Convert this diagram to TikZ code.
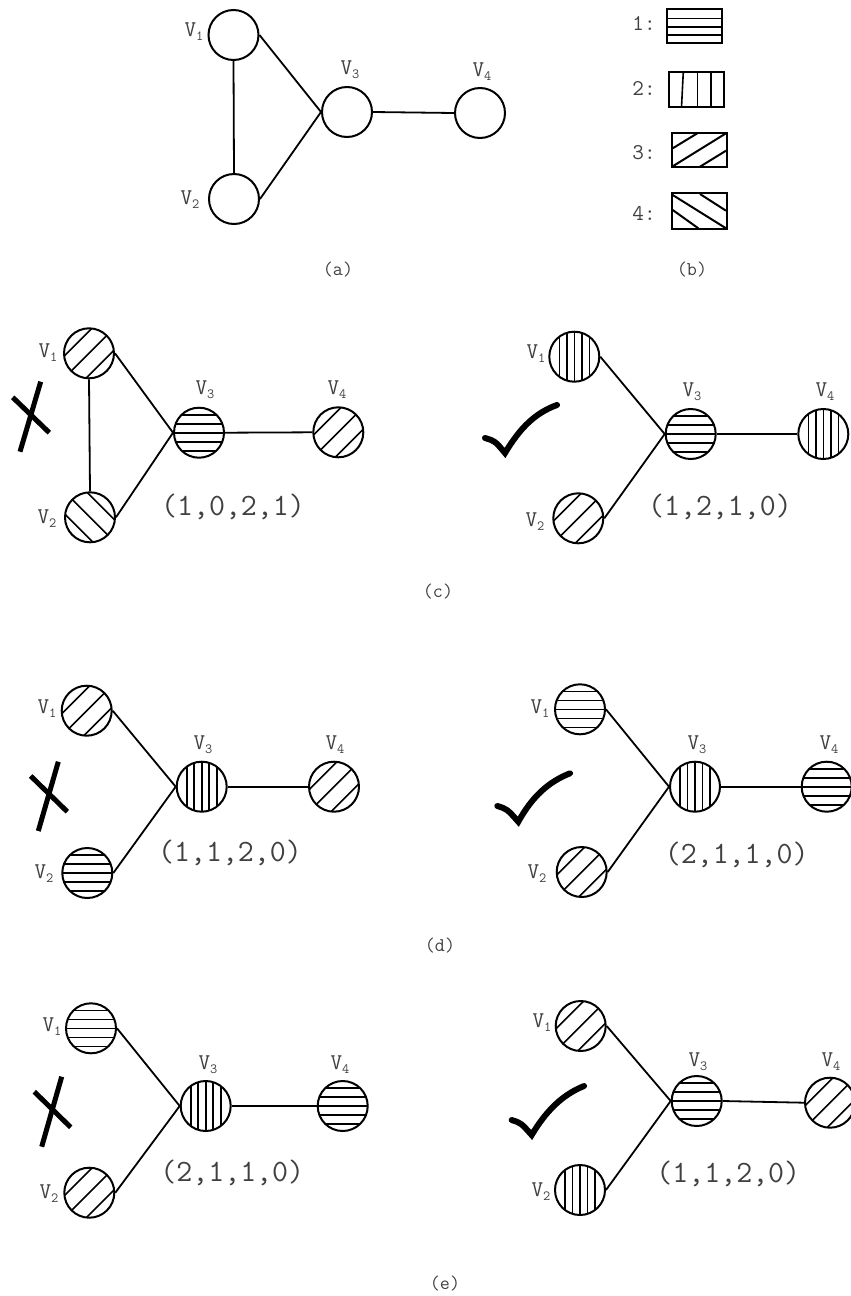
\documentclass[tikz,border=0pt]{standalone}
\usepackage{fontspec}
\newcommand\vl[1]{{\fontsize{22.5}{22.5}\selectfont V}\raisebox{-4pt}{\fontsize{14}{14}\selectfont #1}}
\tikzset{
  vtx/.style={circle,draw,line width=2pt,minimum size=50pt,inner sep=0pt},
  edge/.style={line width=1.8pt},
  pat/.style={line width=1.6pt},
  lbl/.style={text=black!75,font=\ttfamily,inner sep=0pt},
  tup/.style={text=black!75,font=\ttfamily\fontsize{31}{31}\selectfont,inner sep=0pt},
  capt/.style={text=black!75,font=\ttfamily\fontsize{19.5}{19.5}\selectfont,inner sep=0pt},
  leg/.style={text=black!75,font=\ttfamily\fontsize{22.5}{22.5}\selectfont,inner sep=0pt},
  xmk/.style={line width=5pt},
  chk/.style={line width=6pt,line cap=round},
  box/.style={line width=2pt},
}
\newcommand\hpat[1]{\begin{scope}\clip (#1.center) circle (25pt);
  \foreach \d in {-18,-9,0,9,18}{\draw[pat] ([shift={(-30,\d)}]#1.center) -- ([shift={(30,\d)}]#1.center);}\end{scope}}
\newcommand\vpat[1]{\begin{scope}\clip (#1.center) circle (25pt);
  \foreach \d in {-15,-7.5,0,7.5,15}{\draw[pat] ([shift={(\d,-30)}]#1.center) -- ([shift={(\d,30)}]#1.center);}\end{scope}}
\newcommand\spat[1]{\begin{scope}\clip (#1.center) circle (25pt);
  \foreach \d in {-11,0,11}{\draw[pat] ([shift={(\d-30,\d+30)}]#1.center) -- ([shift={(\d+30,\d-30)}]#1.center);}\end{scope}}
\newcommand\bpat[1]{\begin{scope}\clip (#1.center) circle (25pt);
  \foreach \d in {-11,0,11}{\draw[pat] ([shift={(\d-30,-\d-30)}]#1.center) -- ([shift={(\d+30,-\d+30)}]#1.center);}\end{scope}}
\begin{document}
\begin{tikzpicture}[x=1pt,y=-1pt]
\useasboundingbox (0,0) rectangle (851,1296);
% ---------- (a)
\node[vtx] (a1) at (233.5,35) {};
\node[vtx] (a2) at (234,199) {};
\node[vtx] (a3) at (347,112) {};
\node[vtx] (a4) at (480,113) {};
\node[lbl] (la1) at (194,32) {\vl{1}};
\node[lbl] (la2) at (190,200) {\vl{2}};
\node[lbl] (la3) at (350,70) {\vl{3}};
\node[lbl] (la4) at (482,72) {\vl{4}};
\draw[edge] (a1.south) -- (a2.north);
\draw[edge] (a1.east) -- (a3.west);
\draw[edge] (a2.east) -- (a3.west);
\draw[edge] (a3.east) -- (a4.west);
\node[capt] (capa) at (338,270) {(a)};
% ---------- (b) legend
\node[leg] (l1) at (644,23) {1:};
\node[leg] (l2) at (644,88) {2:};
\node[leg] (l3) at (644,153) {3:};
\node[leg] (l4) at (644,213) {4:};
\draw[box] (666.7,9.3) rectangle (721.7,43.3);
\foreach \y in {18.3,26.7,35}{\draw[pat] (666.7,\y) -- (721.7,\y);}
\draw[box] (669,71.7) rectangle (724.3,107.3);
\draw[pat] (683.3,71.7) -- (681.5,107.3);
\draw[pat] (697.3,71.7) -- (697.3,107.3);
\draw[pat] (710.7,71.7) -- (710.7,107.3);
\draw[box] (671.7,132.7) rectangle (726.7,167.3);
\draw[box] (672.7,166.3) -- (726,133.3);
\draw[box] (672.7,148.3) -- (697.3,133.3);
\draw[box] (700,166.7) -- (726,150.7);
\draw[box] (671.7,193.3) rectangle (726.7,229);
\draw[box] (672.7,195) -- (726,228.3);
\draw[box] (672.7,210) -- (698.3,228.3);
\draw[box] (700,194) -- (726,210.7);
\node[capt] (capb) at (692,270) {(b)};
% ---------- (c) left
\node[vtx] (c1) at (89,353.3) {};
\node[vtx] (c2) at (90,517.3) {};
\node[vtx] (c3) at (199,432.7) {};
\node[vtx] (c4) at (338.3,432.3) {};
\spat{c1}\bpat{c2}\hpat{c3}\spat{c4}
\node[lbl] (lc1) at (48,353) {\vl{1}};
\node[lbl] (lc2) at (47,519) {\vl{2}};
\node[lbl] (lc3) at (205,390) {\vl{3}};
\node[lbl] (lc4) at (337,390) {\vl{4}};
\draw[edge] (c1.south) -- (c2.north);
\draw[edge] (c1.east) -- (c3.west);
\draw[edge] (c2.east) -- (c3.west);
\draw[edge] (c3.east) -- (c4.west);
\node[tup] (tc1) at (233,507) {(1,0,2,1)};
\draw[xmk] (20,451.7) -- (40.7,381.7);
\draw[xmk] (12.7,397.3) -- (49.3,432.7);
% ---------- (c) right
\node[vtx] (d1) at (574.3,356.7) {};
\node[vtx] (d2) at (578.3,518.3) {};
\node[vtx] (d3) at (690.7,434) {};
\node[vtx] (d4) at (823.3,434) {};
\vpat{d1}\spat{d2}\hpat{d3}\vpat{d4}
\node[lbl] (ld1) at (536,354) {\vl{1}};
\node[lbl] (ld2) at (535,522) {\vl{2}};
\node[lbl] (ld3) at (692,392) {\vl{3}};
\node[lbl] (ld4) at (825,392) {\vl{4}};
\draw[edge] (d1.east) -- (d3.west);
\draw[edge] (d2.east) -- (d3.west);
\draw[edge] (d3.east) -- (d4.west);
\node[tup] (tc2) at (720,507) {(1,2,1,0)};
\draw[chk] (485,438) .. controls (495,441) .. (505,453) .. controls (520,428) and (535,413) .. (557,405);
\node[capt] (capc) at (438,592) {(c)};
% ---------- (d) left
\node[vtx] (e1) at (86.7,710.7) {};
\node[vtx] (e2) at (87.3,873) {};
\node[vtx] (e3) at (201.7,786.7) {};
\node[vtx] (e4) at (334,786.7) {};
\spat{e1}\hpat{e2}\vpat{e3}\spat{e4}
\node[lbl] (le1) at (47,709) {\vl{1}};
\node[lbl] (le2) at (44,874) {\vl{2}};
\node[lbl] (le3) at (203,745) {\vl{3}};
\node[lbl] (le4) at (335,745) {\vl{4}};
\draw[edge] (e1.east) -- (e3.west);
\draw[edge] (e2.east) -- (e3.west);
\draw[edge] (e3.east) -- (e4.west);
\node[tup] (td1) at (230,853) {(1,1,2,0)};
\draw[xmk] (38.3,831) -- (58.3,761.7);
\draw[xmk] (30.7,776) -- (67.3,811.7);
% ---------- (d) right
\node[vtx] (f1) at (580,709.3) {};
\node[vtx] (f2) at (581.7,872) {};
\node[vtx] (f3) at (695,786.7) {};
\node[vtx] (f4) at (826.7,786.7) {};
\hpat{f1}\spat{f2}\vpat{f3}\hpat{f4}
\node[lbl] (lf1) at (540,709) {\vl{1}};
\node[lbl] (lf2) at (537,874) {\vl{2}};
\node[lbl] (lf3) at (697,745) {\vl{3}};
\node[lbl] (lf4) at (829,745) {\vl{4}};
\draw[edge] (f1.east) -- (f3.west);
\draw[edge] (f2.east) -- (f3.west);
\draw[edge] (f3.east) -- (f4.west);
\node[tup] (td2) at (736.7,855) {(2,1,1,0)};
\draw[chk] (497.3,806) .. controls (507,809) .. (518.3,821.7) .. controls (532,797) and (548,782) .. (570,773.3);
\node[capt] (capd) at (440,946) {(d)};
% ---------- (e) left
\node[vtx] (g1) at (91,1028.3) {};
\node[vtx] (g2) at (89.3,1192.7) {};
\node[vtx] (g3) at (205.7,1106) {};
\node[vtx] (g4) at (342.7,1106) {};
\hpat{g1}\spat{g2}\vpat{g3}\hpat{g4}
\node[lbl] (lg1) at (52,1027) {\vl{1}};
\node[lbl] (lg2) at (49,1194) {\vl{2}};
\node[lbl] (lg3) at (208,1065) {\vl{3}};
\node[lbl] (lg4) at (340,1065) {\vl{4}};
\draw[edge] (g1.east) -- (g3.west);
\draw[edge] (g2.east) -- (g3.west);
\draw[edge] (g3.east) -- (g4.west);
\node[tup] (te1) at (232.3,1172.7) {(2,1,1,0)};
\draw[xmk] (41.7,1146.7) -- (61.7,1076.7);
\draw[xmk] (34.3,1091.7) -- (70.7,1127.3);
% ---------- (e) right
\node[vtx] (h1) at (580.7,1026) {};
\node[vtx] (h2) at (580,1190) {};
\node[vtx] (h3) at (696.7,1101) {};
\node[vtx] (h4) at (830,1102.7) {};
\spat{h1}\vpat{h2}\hpat{h3}\spat{h4}
\node[lbl] (lh1) at (542,1023) {\vl{1}};
\node[lbl] (lh2) at (541,1192) {\vl{2}};
\node[lbl] (lh3) at (698,1062) {\vl{3}};
\node[lbl] (lh4) at (831,1062) {\vl{4}};
\draw[edge] (h1.east) -- (h3.west);
\draw[edge] (h2.east) -- (h3.west);
\draw[edge] (h3.east) -- (h4.west);
\node[tup] (te2) at (728.3,1174.3) {(1,1,2,0)};
\draw[chk] (511.7,1120) .. controls (521,1123) .. (531.7,1135) .. controls (546,1111) and (562,1095) .. (584,1086);
\node[capt] (cape) at (445,1284) {(e)};
\end{tikzpicture}
\end{document}
